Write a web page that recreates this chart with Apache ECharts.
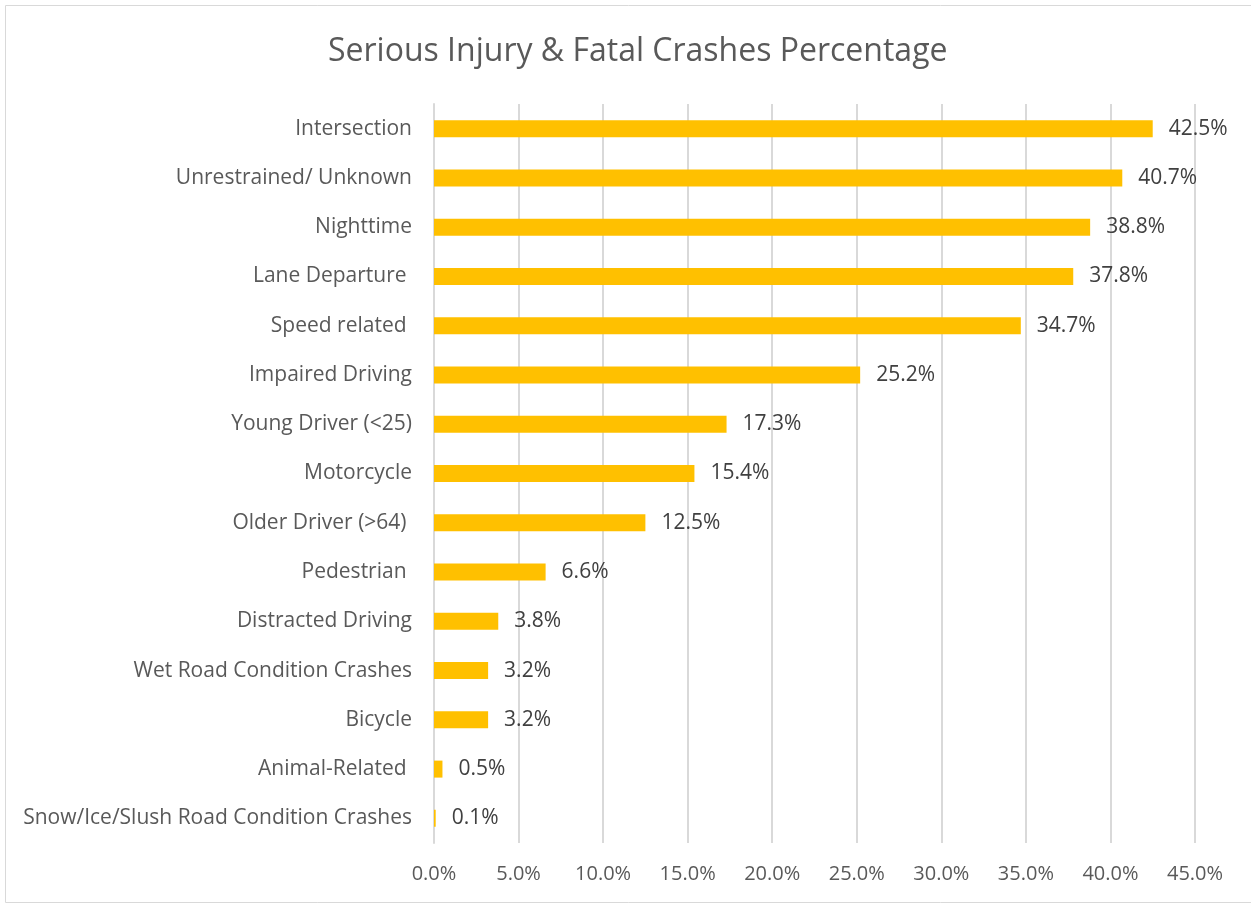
<!DOCTYPE html>
<html>
<head>
<meta charset="utf-8">
<style>
  html, body { margin: 0; padding: 0; background: #fff; }
  #chart { width: 1251px; height: 905px; }
</style>
<script src="https://cdn.jsdelivr.net/npm/echarts@6/dist/echarts.min.js"></script>
</head>
<body>
<div id="chart"></div>
<script>
// categories listed top to bottom as in the picture
const categories = [
  'Intersection',
  'Unrestrained/ Unknown',
  'Nighttime',
  'Lane Departure ',
  'Speed related ',
  'Impaired Driving',
  'Young Driver (<25)',
  'Motorcycle',
  'Older Driver (>64) ',
  'Pedestrian ',
  'Distracted Driving',
  'Wet Road Condition Crashes',
  'Bicycle',
  'Animal-Related ',
  'Snow/Ice/Slush Road Condition Crashes'
]
const percentages = [42.5, 40.7, 38.8, 37.8, 34.7, 25.2, 17.3, 15.4, 12.5, 6.6, 3.8, 3.2, 3.2, 0.5, 0.1]
const xTicks = [0, 5, 10, 15, 20, 25, 30, 35, 40, 45]

const font = '"Open Sans", sans-serif'
const chart = echarts.init(document.getElementById('chart'))

chart.setOption({
  animation: false,
  title: {
    text: 'Serious Injury & Fatal Crashes Percentage',
    left: 323,
    top: 31,
    textStyle: {
      color: '#595959',
      fontFamily: font,
      fontWeight: 'normal',
      fontSize: 32
    }
  },
  graphic: [{
    type: 'rect',
    shape: { x: 5.5, y: 5.5, width: 1260, height: 897 },
    style: { fill: 'none', stroke: '#d9d9d9', lineWidth: 1 },
    silent: true
  }],
  grid: {
    left: 434,
    right: 56,
    top: 104,
    bottom: 62
  },
  xAxis: {
    type: 'value',
    min: xTicks[0],
    max: xTicks[xTicks.length - 1],
    interval: 5,
    axisLine: { show: false },
    axisTick: { show: false },
    splitLine: { lineStyle: { color: '#d9d9d9', width: 2 } },
    axisLabel: {
      color: '#595959',
      fontFamily: font,
      fontSize: 20,
      margin: 21,
      formatter: v => v.toFixed(1) + '%'
    }
  },
  yAxis: {
    type: 'category',
    inverse: true,
    data: categories,
    axisLine: { show: true, lineStyle: { color: '#d9d9d9', width: 2 } },
    axisTick: { show: false },
    axisLabel: {
      color: '#595959',
      fontFamily: font,
      fontSize: 21,
      margin: 22
    }
  },
  series: [{
    type: 'bar',
    data: percentages,
    barWidth: 17,
    itemStyle: { color: '#FFC000' },
    label: {
      show: true,
      position: 'right',
      distance: 16,
      color: '#404040',
      fontFamily: font,
      fontSize: 21,
      formatter: p => p.value.toFixed(1) + '%'
    }
  }]
})
</script>
</body>
</html>
